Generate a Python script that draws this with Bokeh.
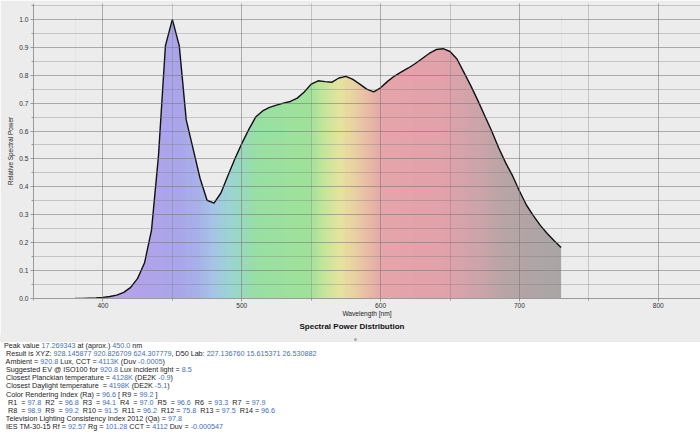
import numpy as np
from bokeh.plotting import figure
from bokeh.models import Range1d, SingleIntervalTicker, Div, NumeralTickFormatter
from bokeh.layouts import column
from bokeh.embed import file_html
from bokeh.resources import INLINE

# ---------------- data ----------------
wavelengths = [380, 385, 390, 395, 400, 405, 410, 415, 420, 425, 430, 435, 440, 445,
               450, 455, 460, 465, 470, 475, 480, 485, 490, 495, 500, 505, 510, 515,
               520, 525, 530, 535, 540, 545, 550, 555, 560, 565, 570, 575, 580, 585,
               590, 595, 600, 605, 610, 615, 620, 625, 630, 635, 640, 645, 650, 655,
               660, 665, 670, 675, 680, 685, 690, 695, 700, 705, 710, 715, 720, 725, 730]
rel_power = [0.000, 0.000, 0.001, 0.002, 0.004, 0.007, 0.012, 0.022, 0.040, 0.072,
             0.128, 0.245, 0.510, 0.905, 1.000, 0.905, 0.640, 0.535, 0.430, 0.352,
             0.342, 0.378, 0.440, 0.500, 0.555, 0.605, 0.650, 0.672, 0.685, 0.693,
             0.700, 0.706, 0.718, 0.740, 0.768, 0.780, 0.777, 0.775, 0.790, 0.796,
             0.785, 0.768, 0.750, 0.740, 0.755, 0.778, 0.797, 0.812, 0.826, 0.842,
             0.860, 0.878, 0.892, 0.895, 0.885, 0.858, 0.810, 0.762, 0.710, 0.655,
             0.600, 0.540, 0.487, 0.440, 0.385, 0.335, 0.297, 0.262, 0.233, 0.207, 0.183]

x_tick_values = [400, 500, 600, 700, 800]
y_tick_values = [0.0, 0.1, 0.2, 0.3, 0.4, 0.5, 0.6, 0.7, 0.8, 0.9, 1.0]

title_text = "Spectral Power Distribution"
x_label = "Wavelength [nm]"
y_label = "Relative Spectral Power"

# result text: segments alternate plain / value (value segments are blue)
result_lines = [
    ["Peak value ", "17.269343", " at (aprox.) ", "450.0", " nm"],
    [" Result is XYZ: ", "928.145877 920.826709 624.307779", ", D50 Lab: ", "227.136760 15.615371 26.530882"],
    [" Ambient = ", "920.8", " Lux, CCT = ", "4113K", " (Duv ", "-0.0005", ")"],
    [" Suggested EV @ ISO100 for ", "920.8", " Lux incident light = ", "8.5"],
    [" Closest Planckian temperature = ", "4128K", " (DE2K ", "-0.9", ")"],
    [" Closest Daylight temperature  = ", "4198K", " (DE2K ", "-5.1", ")"],
    [" Color Rendering Index (Ra) = ", "96.6", " [ R9 = ", "99.2", " ]"],
    ["  R1  = ", "97.8", "  R2  = ", "96.8", "  R3  = ", "94.1", "  R4  = ", "97.0",
     "  R5  = ", "96.6", "  R6  = ", "93.3", "  R7  = ", "97.9"],
    ["  R8  = ", "98.9", "  R9  = ", "99.2", "  R10 = ", "91.5", "  R11 = ", "96.2",
     "  R12 = ", "75.8", "  R13 = ", "97.5", "  R14 = ", "96.6"],
    [" Television Lighting Consistency Index 2012 (Qa) = ", "97.8"],
    [" IES TM-30-15 Rf = ", "92.57", " Rg = ", "101.28", " CCT = ", "4112", " Duv = ", "-0.000547"],
]

# ---------------- styles ----------------
BG = "#ececec"
FONT = "Liberation Sans"
spectrum_nm = [380, 420, 455, 470, 480, 490, 500, 510, 548, 560, 570, 580, 592, 602,
               645, 665, 690, 730]
spectrum_hex = ["#bcaaea", "#b4a2ea", "#aaa6ea", "#a8b4ea", "#a6c6e6", "#9cd4d4",
                "#98dabe", "#98e0a4", "#a0e29a", "#c8e69c", "#e6e49e", "#e8d4a2",
                "#e8b8a6", "#e6a4aa", "#e2a2aa", "#d2a4aa", "#b8a4a6", "#a8a6a6"]

W, H = 700, 335
PANEL_H = 432 - H
p = figure(width=W, height=H, output_backend="svg", toolbar_location=None,
           x_range=Range1d(350, 830.4), y_range=Range1d(0, 1.057),
           min_border_left=33, min_border_right=0, min_border_top=3, min_border_bottom=37,
           background_fill_color=BG, border_fill_color=BG, outline_line_color=None,
           title=title_text, title_location="below")

# gradient fill under the curve: spectrum image, masked above the curve
x0, x1 = wavelengths[0], wavelengths[-1]
n = (x1 - x0)
centers = x0 + 0.5 + np.arange(n)
rgb = np.array([[int(h[i:i + 2], 16) for i in (1, 3, 5)] for h in spectrum_hex], dtype=float)
img = np.empty((1, n), dtype=np.uint32)
view = img.view(dtype=np.uint8).reshape((1, n, 4))
for c in range(3):
    view[0, :, c] = np.interp(centers, spectrum_nm, rgb[:, c]).astype(np.uint8)
view[0, :, 3] = 255
p.image_rgba(image=[img], x=x0, y=0, dw=x1 - x0, dh=1.01)
p.varea(x=wavelengths, y1=rel_power, y2=[1.2] * len(wavelengths), fill_color=BG)
p.line(wavelengths, rel_power, line_color="#111111", line_width=1.4)

# axes / ticks / grid
p.xaxis.ticker = SingleIntervalTicker(interval=100, num_minor_ticks=2)
p.yaxis.ticker = SingleIntervalTicker(interval=0.1, num_minor_ticks=2)
p.yaxis.formatter = NumeralTickFormatter(format="0.0")
p.xaxis.formatter = NumeralTickFormatter(format="0")
for ax in (p.xaxis, p.yaxis):
    ax.axis_line_color = "#9a9a9a"
    ax.major_tick_line_color = "#9a9a9a"
    ax.minor_tick_line_color = "#9a9a9a"
    ax.major_tick_in = 0
    ax.minor_tick_in = 0
    ax.major_tick_out = 3
    ax.minor_tick_out = 2
    ax.major_label_text_font = FONT
    ax.major_label_text_font_size = "6.6px"
    ax.major_label_text_color = "#333333"
    ax.axis_label_text_font = FONT
    ax.axis_label_text_font_style = "normal"
    ax.axis_label_text_color = "#222222"
    ax.major_label_standoff = 2
p.xaxis.axis_label = x_label
p.yaxis.axis_label = y_label
p.xaxis.axis_label_text_font_size = "6.6px"
p.yaxis.axis_label_text_font_size = "6.4px"
p.xaxis.major_label_standoff = 1
p.xaxis.axis_label_standoff = -1
p.yaxis.axis_label_standoff = 2

for g in (p.xgrid, p.ygrid):
    g.level = "overlay"
    g.grid_line_color = "#777777"
    g.grid_line_alpha = 0.33
    g.minor_grid_line_color = "#777777"
    g.minor_grid_line_alpha = 0.33

p.title.align = "left"
p.title.offset = 266
p.title.text_font = FONT
p.title.text_font_size = "8px"
p.title.text_font_style = "bold"
p.title.text_color = "#111111"
p.title.standoff = 0

# ---------------- text panel ----------------
parts = []
for segs in result_lines:
    html = ""
    for i, s in enumerate(segs):
        if i % 2 == 1:
            html += '<span style="color:#3f6fb8">%s</span>' % s
        else:
            html += s
    parts.append('<div style="height:8.1px;line-height:8.1px">%s</div>' % html)

panel_html = (
    '<div style="width:%dpx;height:%dpx;overflow:hidden;background:#ffffff;">' % (W, PANEL_H)
    + '<div style="height:6.5px;background:%s;position:relative;">' % BG
    + '<div style="position:absolute;left:354px;top:2.5px;width:3px;height:3px;'
      'border-radius:50%;background:#a8a8a8;"></div></div>'
    + '<div style="font-family:\'%s\',Arial,sans-serif;font-size:7.2px;color:#222222;'
      'white-space:pre;padding-left:4px;padding-top:0.5px;">' % FONT
    + "".join(parts) + "</div></div>"
)
panel = Div(text=panel_html, width=W, height=PANEL_H, margin=0,
            styles={"overflow": "hidden", "background-color": "#ffffff"})

layout = column(p, panel, spacing=0)
open("out.html", "w").write(file_html(layout, INLINE))
